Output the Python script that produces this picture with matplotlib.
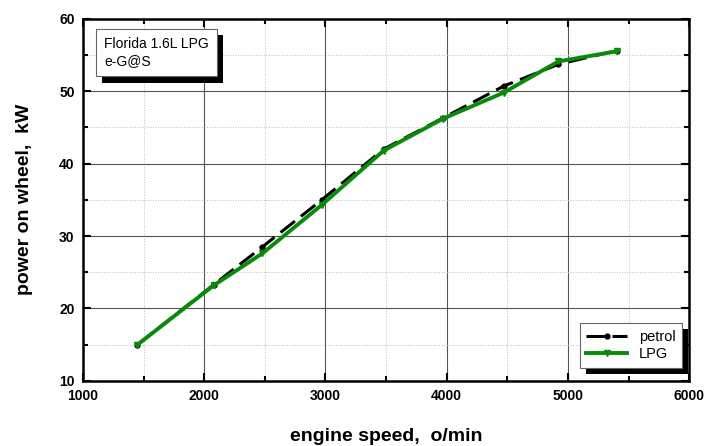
import matplotlib
matplotlib.use("Agg")
import matplotlib.pyplot as plt
import matplotlib.patheffects as pe
from matplotlib.ticker import MultipleLocator

plt.rcParams['font.family'] = ['Liberation Sans', 'DejaVu Sans']

speed_petrol = [1450, 2080, 2480, 2970, 3480, 3970, 4470, 4920, 5400]
power_petrol = [15.0, 23.3, 28.5, 35.0, 42.0, 46.3, 50.7, 53.7, 55.6]

speed_lpg = [1450, 2080, 2480, 2970, 3480, 3970, 4470, 4920, 5400]
power_lpg = [15.0, 23.2, 27.6, 34.3, 41.8, 46.2, 49.8, 54.1, 55.5]

fig = plt.figure(figsize=(7.21, 4.46), dpi=100)
ax = fig.add_axes([0.115, 0.146, 0.841, 0.812])

ax.plot(speed_petrol, power_petrol, color='black', lw=2.2, dashes=(6, 2.5),
        marker='o', ms=3.5, label='petrol', zorder=3)
ax.plot(speed_lpg, power_lpg, color='#0a8a0a', lw=2.8,
        marker='v', ms=4, label='LPG', zorder=4)

ax.set_xlim(1000, 6000)
ax.set_ylim(10, 60)
ax.xaxis.set_major_locator(MultipleLocator(1000))
ax.xaxis.set_minor_locator(MultipleLocator(500))
ax.yaxis.set_major_locator(MultipleLocator(10))
ax.yaxis.set_minor_locator(MultipleLocator(5))

ax.grid(which='major', color='#555555', lw=0.8)
ax.grid(which='minor', color='#bbbbbb', lw=0.7, ls=':')

ax.tick_params(which='both', direction='in', top=True, right=True, width=1.5)
ax.tick_params(which='major', length=6, labelsize=10, pad=6)
ax.tick_params(which='minor', length=3.5)
for lbl in ax.get_xticklabels() + ax.get_yticklabels():
    lbl.set_fontweight('bold')
for sp in ax.spines.values():
    sp.set_linewidth(1.8)

ax.set_xlabel('engine speed,  o/min', fontsize=14, fontweight='bold', labelpad=18)
ax.set_ylabel('power on wheel,  kW', fontsize=14, fontweight='bold', labelpad=19)

shadow = [pe.SimplePatchShadow(offset=(4.5, -4.5), shadow_rgbFace='black', alpha=1),
          pe.Normal()]

txt = ax.text(0.035, 0.95, 'Florida 1.6L LPG\ne-G@S', transform=ax.transAxes,
              fontsize=10, va='top', ha='left', linespacing=1.3,
              bbox=dict(boxstyle='square,pad=0.6', fc='white', ec='#666666', lw=0.8),
              zorder=6)
txt.get_bbox_patch().set_path_effects(shadow)

leg = ax.legend(loc='lower right', bbox_to_anchor=(0.988, 0.036), borderaxespad=0,
                fontsize=10.5, fancybox=False, edgecolor='#666666', framealpha=1,
                handlelength=2.8, borderpad=0.45, labelspacing=0.25)
leg.get_frame().set_linewidth(0.8)
leg.get_frame().set_path_effects(shadow)
leg.set_zorder(6)

fig.savefig('out.png', dpi=100)
